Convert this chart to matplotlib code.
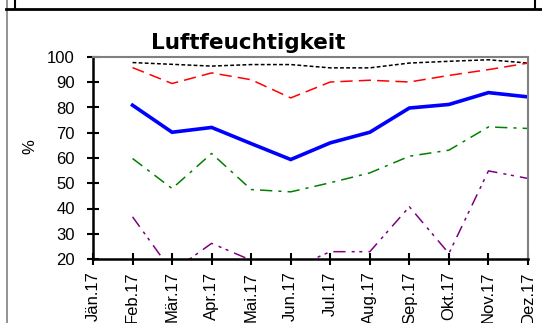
import matplotlib
matplotlib.use("Agg")
import matplotlib.pyplot as plt
from matplotlib.lines import Line2D

plt.rcParams.update({"font.family": ["Liberation Sans", "DejaVu Sans"]})

months = ["Jän.17", "Feb.17", "Mär.17", "Apr.17", "Mai.17", "Jun.17",
          "Jul.17", "Aug.17", "Sep.17", "Okt.17", "Nov.17", "Dez.17"]

# monthly humidity series (Feb..Dez), in %
hum_max = [97.8, 97.1, 96.4, 97.0, 97.0, 95.7, 95.7, 97.6, 98.3, 98.9, 97.6]
hum_high = [95.8, 89.5, 93.7, 91.0, 83.8, 90.1, 90.8, 90.1, 92.7, 95.0, 97.6]
hum_mean = [80.9, 70.2, 72.1, 65.7, 59.4, 66.0, 70.2, 79.8, 81.2, 85.9, 84.2]
hum_low = [59.8, 47.9, 61.8, 47.5, 46.6, 50.2, 54.1, 60.7, 63.1, 72.3, 71.7]
hum_min = [36.7, 15.0, 26.2, 19.5, 16.0, 22.9, 22.9, 40.7, 22.2, 54.9, 51.9]

W, H = 542, 323
fig = plt.figure(figsize=(W / 100, H / 100), dpi=100)

# plot area in pixels: left 93, right 528, top 57, bottom 259
ax = fig.add_axes([93 / W, 1 - 259 / H, 435 / W, 202 / H])

x = list(range(1, len(months)))
ax.plot(x, hum_max, color="black", lw=1.1, dashes=(2.5, 1.5))
ax.plot(x, hum_high, color="#ff0000", lw=1.1, dashes=(8, 4))
ax.plot(x, hum_mean, color="#0000ff", lw=2.6, solid_joinstyle="miter")
ax.plot(x, hum_low, color="#008000", lw=1.1, dashes=(8, 4, 2, 4))
ax.plot(x, hum_min, color="#800080", lw=1.1, dashes=(8, 4, 2, 3, 2, 4))

ax.set_xlim(0, len(months) - 1)
ax.set_ylim(20, 100)
ax.set_yticks(range(20, 101, 10))
ax.set_xticks(range(len(months)))
ax.set_xticklabels(months, rotation=90, va="top", ha="center")
ax.tick_params(direction="inout", length=8, width=1.5, labelsize=12,
               color="black")
ax.tick_params(axis="y", pad=9)
ax.tick_params(axis="x", pad=5)

for side in ("top", "right"):
    ax.spines[side].set_color("#808080")
    ax.spines[side].set_linewidth(1.5)
for side in ("left", "bottom"):
    ax.spines[side].set_linewidth(1.8)

fig.text(30 / W, 1 - 147 / H, "%", fontsize=12, rotation=90,
         ha="center", va="center")
fig.text(248 / W, 1 - 49 / H, "Luftfeuchtigkeit", fontsize=15.5,
         fontweight="bold", family="DejaVu Sans", ha="center", va="baseline")

# chart-area frame and the bottom edge of the box above
def px_line(xs, ys, **kw):
    fig.add_artist(Line2D([v / W for v in xs], [1 - v / H for v in ys],
                          transform=fig.transFigure, **kw))

px_line([6.5, 6.5], [0, H], color="#808080", lw=1.2)
px_line([6, W], [9, 9], color="black", lw=2.0)
px_line([15, 15], [0, 9], color="black", lw=1.5)
px_line([535, 535], [0, 9], color="black", lw=1.5)

fig.savefig("out.png", dpi=100)
